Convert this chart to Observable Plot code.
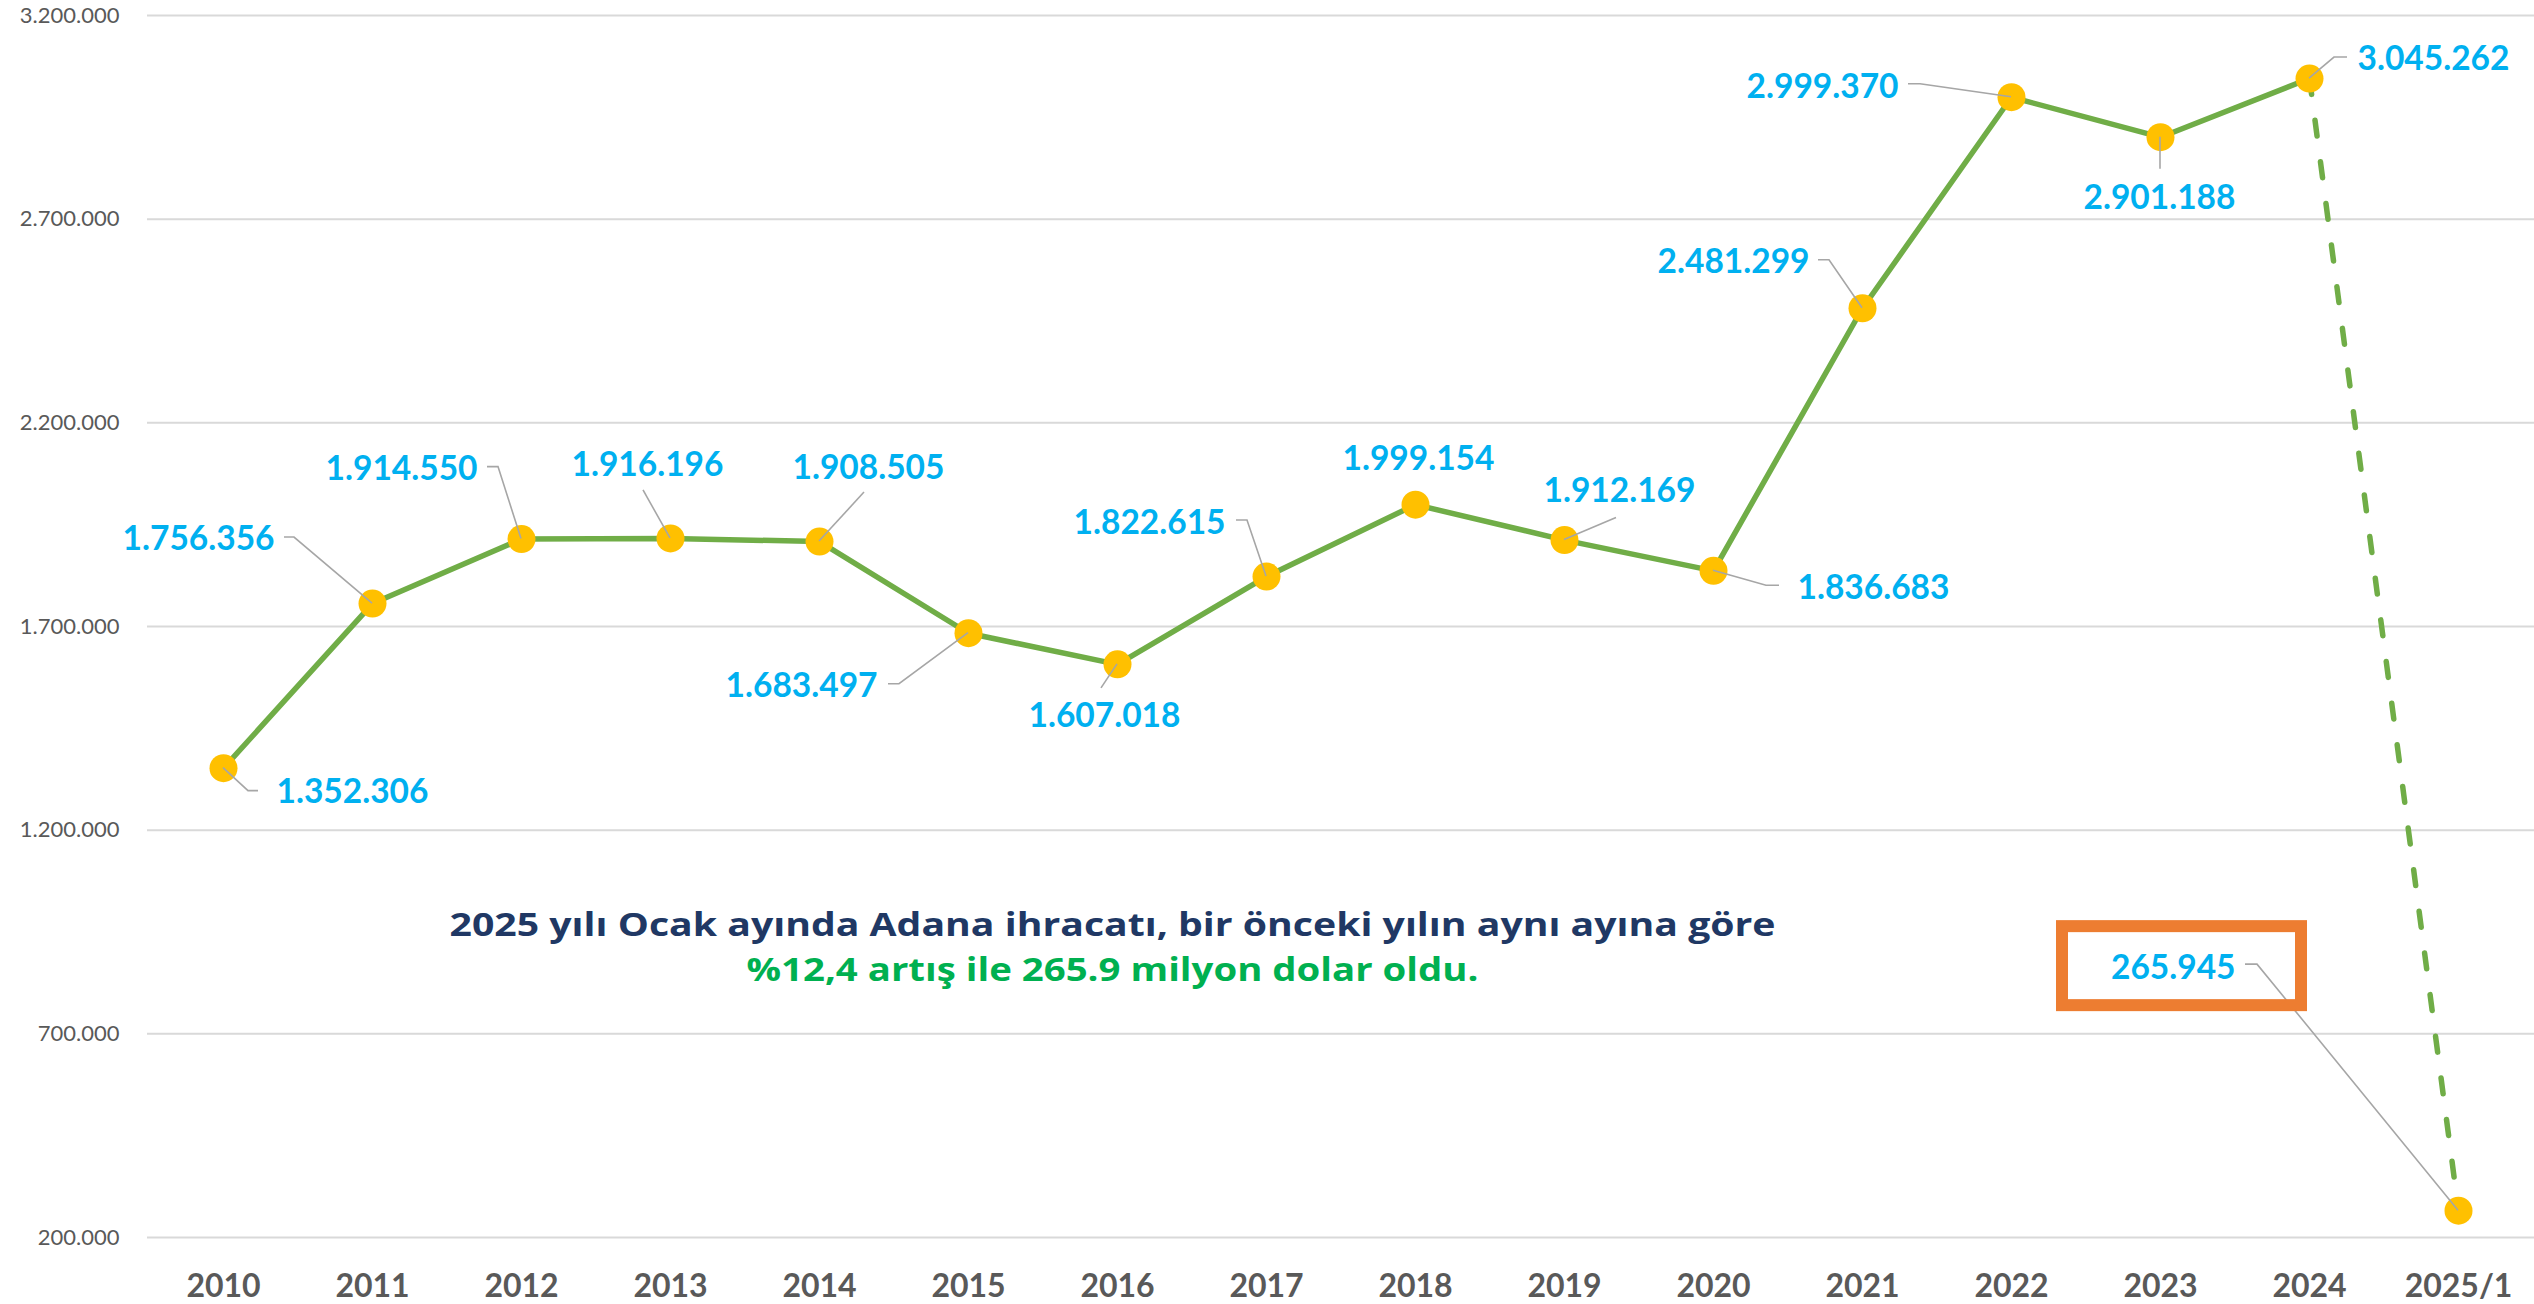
<!DOCTYPE html>
<html>
<head>
<meta charset="utf-8">
<script src="https://cdn.jsdelivr.net/npm/d3@7"></script>
<script src="https://cdn.jsdelivr.net/npm/@observablehq/plot@0.6"></script>
<style>
  html, body { margin: 0; padding: 0; background: #ffffff; }
  #chart { width: 2534px; height: 1304px; overflow: hidden; }
  #chart svg { display: block; }
</style>
</head>
<body>
<div id="chart"></div>
<script>
// ---------- DATA ----------
const years = ["2010","2011","2012","2013","2014","2015","2016","2017","2018","2019","2020","2021","2022","2023","2024","2025/1"];
const exportValues = [1352306,1756356,1914550,1916196,1908505,1683497,1607018,1822615,1999154,1912169,1836683,2481299,2999370,2901188,3045262,265945];
const yTicks = [200000,700000,1200000,1700000,2200000,2700000,3200000];
const noteLine1 = "2025 yılı Ocak ayında Adana ihracatı, bir önceki yılın aynı ayına göre";
const noteLine2 = "%12,4 artış ile 265.9 milyon dolar oldu.";

// ---------- LABEL LAYOUT (pixel offsets relative to each point) ----------
const labelLayout = [
  {anchor:"start",  dx:53,   dy:35,   leader:[[0,0],[25,23],[35,23]]},
  {anchor:"end",    dx:-98,  dy:-54,  leader:[[0,0],[-78,-66],[-88,-66]]},
  {anchor:"end",    dx:-44,  dy:-59,  leader:[[0,0],[-23,-72],[-34,-72]]},
  {anchor:"middle", dx:-23,  dy:-62,  leader:[[0,0],[-27,-48]]},
  {anchor:"middle", dx:49,   dy:-63,  leader:[[0,0],[45,-49]]},
  {anchor:"end",    dx:-91,  dy:64,   leader:[[0,0],[-69,51],[-80,51]]},
  {anchor:"middle", dx:-13,  dy:63,   leader:[[0,0],[-16,24]]},
  {anchor:"end",    dx:-41,  dy:-43,  leader:[[0,0],[-19,-56],[-30,-56]]},
  {anchor:"middle", dx:3,    dy:-35,  leader:null},
  {anchor:"middle", dx:55,   dy:-38,  leader:[[0,0],[52,-22]]},
  {anchor:"start",  dx:84,   dy:28,   leader:[[0,0],[53,15],[66,15]]},
  {anchor:"end",    dx:-53,  dy:-35,  leader:[[0,0],[-33,-48],[-44,-48]]},
  {anchor:"end",    dx:-113, dy:1,    leader:[[0,0],[-91,-13],[-103,-13]]},
  {anchor:"middle", dx:-1,   dy:72,   leader:[[0,0],[0,32]]},
  {anchor:"start",  dx:48,   dy:-9,   leader:[[0,0],[25,-21],[38,-21]]},
  {anchor:"end",    dx:-223, dy:-232, leader:[[0,0],[-201,-246],[-213,-246]]}
];
const highlightBox = {dx:-396, dy:-284, w:239, h:79};
const noteWidths = [1326, 732];

// ---------- BUILD ----------
const fmt = d3.formatLocale({decimal:",", thousands:".", grouping:[3], currency:["",""]}).format(",");
const data = years.map((year, i) => ({year, value: exportValues[i]}));
const solidPart = data.slice(0, data.length - 1);
const dashedPart = data.slice(data.length - 2);

function leaderMark(index, scales) {
  const g = d3.create("svg:g")
    .attr("fill", "none").attr("stroke", "#A6A6A6").attr("stroke-width", 1.6);
  data.forEach((d, i) => {
    const L = labelLayout[i].leader;
    if (!L) return;
    const px = scales.x(d.year), py = scales.y(d.value);
    g.append("polyline").attr("points", L.map(([a, b]) => `${px + a},${py + b}`).join(" "));
  });
  return g.node();
}

function boxMark(index, scales) {
  const d = data[data.length - 1];
  const px = scales.x(d.year), py = scales.y(d.value);
  return d3.create("svg:rect")
    .attr("x", px + highlightBox.dx).attr("y", py + highlightBox.dy)
    .attr("width", highlightBox.w).attr("height", highlightBox.h)
    .attr("fill", "none").attr("stroke", "#ED7D31").attr("stroke-width", 12)
    .node();
}

const labelMarks = labelLayout.map((l, i) =>
  Plot.text([data[i]], {
    x: "year", y: "value", text: d => fmt(d.value),
    dx: l.dx, dy: l.dy, textAnchor: l.anchor, lineAnchor: "bottom",
    fill: "#00B0F0", fontSize: 33.5, fontWeight: "bold"
  })
);

const chart = Plot.plot({
  width: 2534,
  height: 1304,
  marginLeft: 147,
  marginRight: 0,
  marginTop: 15,
  marginBottom: 67,
  style: {background: "#ffffff", fontFamily: "Lato, 'Open Sans', sans-serif"},
  x: {type: "point", domain: years, padding: 0.5, label: null},
  y: {domain: [200000, 3200000], label: null},
  marks: [
    Plot.ruleY(yTicks, {stroke: "#D9D9D9", strokeWidth: 2}),
    Plot.axisY(yTicks, {tickFormat: fmt, tickSize: 0, tickPadding: 28, fontSize: 22, fill: "#595959", label: null}),
    Plot.axisX({tickSize: 0, tickPadding: 37, fontSize: 32, fontWeight: "bold", fill: "#595959", label: null}),
    Plot.text([noteLine1], {text: d => d, frameAnchor: "top-left", dx: 965, dy: 920, textAnchor: "middle", lineAnchor: "bottom",
      fill: "#203864", fontSize: 32, fontWeight: "bold", fontFamily: "'Open Sans', sans-serif"}),
    Plot.text([noteLine2], {text: d => d, frameAnchor: "top-left", dx: 965, dy: 965, textAnchor: "middle", lineAnchor: "bottom",
      fill: "#00B050", fontSize: 32, fontWeight: "bold", fontFamily: "'Open Sans', sans-serif"}),
    Plot.line(solidPart, {x: "year", y: "value", stroke: "#70AD47", strokeWidth: 5.5}),
    Plot.line(dashedPart, {x: "year", y: "value", stroke: "#70AD47", strokeWidth: 5.5, strokeDasharray: "16,26", strokeLinecap: "round"}),
    Plot.dot(data, {x: "year", y: "value", r: 14, fill: "#FFC000"}),
    leaderMark,
    ...labelMarks,
    boxMark
  ]
});

// stretch the annotation lines to the wide display face used in the original
[noteLine1, noteLine2].forEach((line, k) => {
  d3.select(chart).selectAll("text")
    .filter(function() { return this.textContent === line; })
    .attr("textLength", noteWidths[k])
    .attr("lengthAdjust", "spacingAndGlyphs");
});

document.getElementById("chart").appendChild(chart);
</script>
</body>
</html>
